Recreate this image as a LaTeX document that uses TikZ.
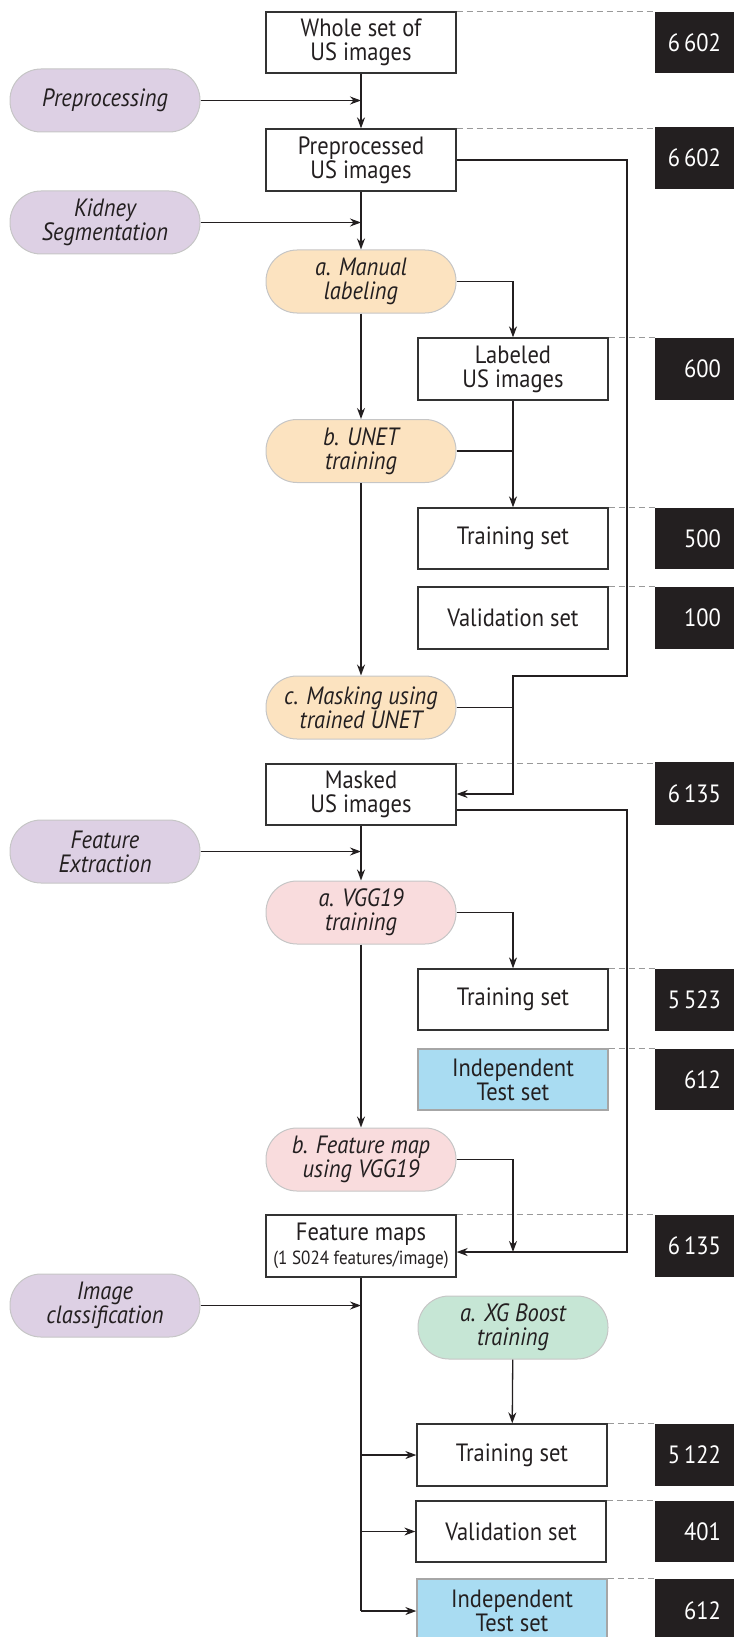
\documentclass[tikz,border=0pt]{standalone}
\usepackage{fontspec}
\setmainfont[FakeStretch=0.9]{PT Sans}
\usetikzlibrary{arrows.meta,calc}
\definecolor{purp}{HTML}{DDD0E4}
\definecolor{orng}{HTML}{FCE3C0}
\definecolor{pink}{HTML}{F9DCDD}
\definecolor{grn}{HTML}{C6E6D5}
\definecolor{blu}{HTML}{A9DCF2}
\definecolor{blk}{HTML}{231F20}
\definecolor{edge}{HTML}{333333}
\tikzset{
  base/.style={align=center,inner sep=0pt,font=\fontsize{25}{24}\selectfont,text=blk},
  box/.style={base,draw=edge,line width=1.3pt,fill=white,minimum width=190pt,minimum height=62pt},
  bluebox/.style={box,fill=blu,draw=gray!70},
  pill/.style={base,draw=gray!45,line width=1pt,rounded corners=31pt,minimum width=190pt,minimum height=63pt,font=\fontsize{25}{24}\selectfont\itshape},
  count/.style={fill=blk,text=white,minimum width=79pt,minimum height=62pt,inner sep=0pt},
  cnt/.style={text=white,anchor=east,inner sep=0pt,font=\fontsize{25}{24}\selectfont},
  conn/.style={draw=blk,line width=1.3pt},
  arr/.style={conn,-{Stealth[length=11pt,width=8pt]}},
  guide/.style={draw=gray!80,line width=1.2pt,dash pattern=on 6pt off 4pt},
}
\begin{document}
\begin{tikzpicture}[x=1pt,y=-1pt]
\useasboundingbox (0,0) rectangle (734,1637);
% main boxes
\node[box,minimum height=61pt] (whole) at (361,42.5) {Whole set of\\US images};
\node[box] (pre) at (361,160) {Preprocessed\\US images};
\node[pill,fill=purp] (pPre) at (105,100.5) {Preprocessing};
\node[pill,fill=purp] (pKid) at (105,222.5) {Kidney\\Segmentation};
\node[pill,fill=orng] (manual) at (361,281.5) {a. Manual\\labeling};
\node[box] (labeled) at (513,369) {Labeled\\US images};
\node[pill,fill=orng] (unet) at (361,451) {b. UNET\\training};
\node[box,minimum height=61pt] (train1) at (513,538.5) {Training set};
\node[box] (val1) at (513,618) {Validation set};
\node[pill,fill=orng] (mask) at (361,707.5) {c. Masking using\\trained UNET};
\node[box,minimum height=61pt] (masked) at (361,794.5) {Masked\\US images};
\node[pill,fill=purp] (pFeat) at (105,851.5) {Feature\\Extraction};
\node[pill,fill=pink] (vgg) at (361,912.5) {a. VGG19\\training};
\node[box,minimum height=61pt] (train2) at (513,999.5) {Training set};
\node[bluebox,minimum height=61pt] (test2) at (513,1079.5) {Independent\\Test set};
\node[pill,fill=pink] (fmap) at (361,1159.5) {b. Feature map\\using VGG19};
\node[box] (fmaps) at (361,1246) {Feature maps\\{\fontsize{19}{23}\selectfont(1 S024 features/image)}};
\node[pill,fill=purp] (pImg) at (105,1305.5) {Image\\classification};
\node[pill,fill=grn] (xg) at (513,1327.5) {a. XG Boost\\training};
\node[box] (train3) at (512,1455) {Training set};
\node[box,minimum height=61pt] (val3) at (511,1531.5) {Validation set};
\node[bluebox,minimum height=64pt] (test3) at (512,1611) {Independent\\Test set};
% counts
\node[count,minimum height=61pt] (c1) at (694.5,42.5) {};
\node[count] (c2) at (694.5,158) {};
\node[count] (c3) at (694.5,369) {};
\node[count,minimum height=61pt] (c4) at (694.5,538.5) {};
\node[count] (c5) at (694.5,618) {};
\node[count,minimum height=63pt] (c6) at (694.5,793.5) {};
\node[count] (c7) at (694.5,1000) {};
\node[count,minimum height=61pt] (c8) at (694.5,1079.5) {};
\node[count] (c9) at (694.5,1246) {};
\node[count] (c10) at (694.5,1455) {};
\node[count,minimum height=61pt] (c11) at (694.5,1531.5) {};
\node[count,minimum height=64pt] (c12) at (694.5,1611) {};
\foreach \c/\t in {c1/6\,602,c2/6\,602,c3/600,c4/500,c5/100,c6/6\,135,c7/5\,523,c8/612,c9/6\,135,c10/5\,122,c11/401,c12/612}
  \node[cnt] at ($(\c.east)+(-13,0)$) {\t};
% dashed guides
\foreach \b/\c in {whole/c1,pre/c2,labeled/c3,train1/c4,val1/c5,masked/c6,train2/c7,test2/c8,fmaps/c9,train3/c10,val3/c11,test3/c12}
  \path[guide] (\b.north east) -- (\b.north east -| \c.north west);
% junction coordinates
\coordinate (j1) at (361,100.5);
\coordinate (j2) at (361,222.5);
\coordinate (j3) at (513,451);
\coordinate (r1) at (627,160);
\coordinate (r2) at (627,676);
\coordinate (r3) at (513,676);
\coordinate (r4) at (513,794);
\coordinate (j4) at (513,707.5);
\coordinate (j5) at (361,851.5);
\coordinate (s1) at (627,810);
\coordinate (s2) at (627,1252);
\coordinate (j6) at (513,1252);
\coordinate (j7) at (361,1305.5);
\coordinate (t1) at (361,1455);
\coordinate (t2) at (361,1531.5);
\coordinate (t3) at (361,1611);
% connectors
\path[arr] (whole) -- (pre);
\path[arr] (pPre) -- (j1);
\path[arr] (pre) -- (manual);
\path[arr] (pKid) -- (j2);
\path[arr] (manual.east) -| (labeled.north);
\path[arr] (manual) -- (unet);
\path[arr] (labeled) -- (train1);
\path[conn] (unet.east) -- (j3);
\path[arr] (unet) -- (mask);
\path[arr] (pre.east |- r1) -- (r1) -- (r2) -- (r3) -- (r4) -- (masked.east |- r4);
\path[conn] (mask.east) -- (j4);
\path[arr] (masked) -- (vgg);
\path[arr] (pFeat) -- (j5);
\path[arr] (masked.east |- s1) -- (s1) -- (s2) -- (fmaps.east |- s2);
\path[arr] (vgg.east) -| (train2.north);
\path[arr] (vgg) -- (fmap);
\path[arr] (fmap.east) -| (j6);
\path[arr] (pImg) -- (j7);
\path[conn] (fmaps.south) -- (t3);
\path[arr] (t1) -- (train3.west);
\path[arr] (t2) -- (val3.west);
\path[arr] (t3) -- (test3.west |- t3);
\path[arr] (xg) -- (train3);
\end{tikzpicture}
\end{document}
